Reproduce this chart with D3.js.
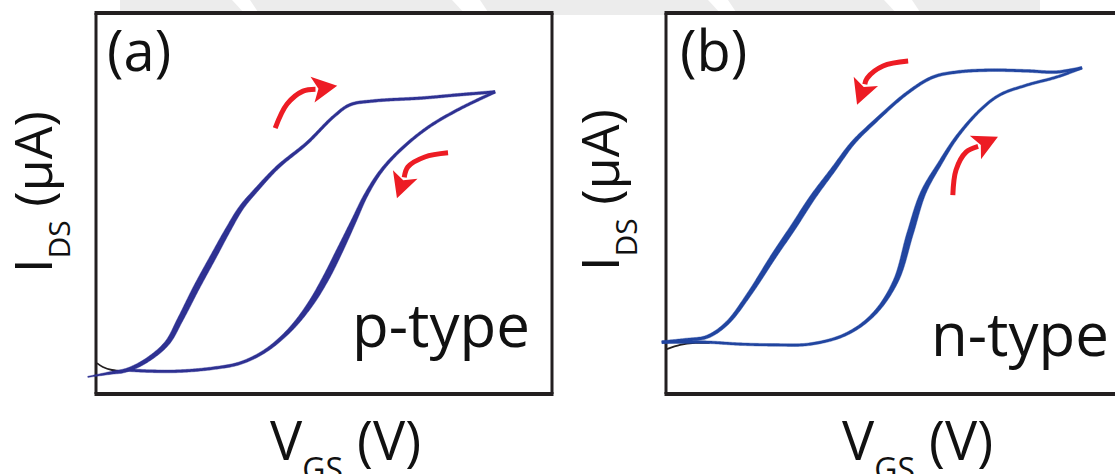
<!DOCTYPE html>
<html>
<head>
<meta charset="utf-8">
<script src="https://cdn.jsdelivr.net/npm/d3@7"></script>
<style>
  body { margin: 0; background: #fff; }
  svg { display: block; font-family: "Open Sans", sans-serif; }
</style>
</head>
<body>
<div id="chart"></div>
<script>
// Transfer curves (arbitrary units, 0-100 across each frame)

var panelLabels = ["(a)", "(b)"];
var typeLabels = ["p-type", "n-type"];
var xLabelParts = ["V", "GS", " (V)"];
var yLabelParts = ["I", "DS", " (\u00b5A)"];

// p-type, left branch (sweep up) and right branch (sweep back)
var pLeftV  = [-1.8, 3.1, 6.8, 11.2, 15.6, 18.4, 22.1, 25.7, 28.9, 31.8, 35.1, 39.9, 46.3, 52.0, 55.7, 60.7, 71.7, 79.2, 87.5];
var pLeftI  = [4.5, 5.5, 6.3, 8.9, 13.4, 19.4, 28.1, 36.0, 43.0, 48.8, 53.5, 59.6, 65.9, 72.7, 75.9, 76.9, 77.7, 78.5, 79.3];
var pRightV = [87.5, 79.2, 72.6, 66.7, 62.5, 59.2, 56.4, 53.5, 50.4, 46.9, 42.5, 37.1, 31.6, 25.9, 18.4, 11.8, 6.8];
var pRightI = [79.3, 74.5, 69.8, 64.0, 58.5, 52.2, 45.1, 37.8, 30.4, 23.4, 16.8, 11.3, 8.1, 6.8, 6.0, 6.0, 6.3];
var pOffV = [0.2, 1.5, 3.5, 5.9];
var pOffI = [8.1, 7.1, 6.3, 6.0];

// n-type, left branch (sweep back) and right branch (sweep up)
var nLeftV  = [-0.9, 4.2, 9.0, 13.4, 18.4, 23.5, 27.9, 32.2, 36.6, 41.0, 45.4, 52.9, 58.6, 63.8, 71.1, 79.2, 85.7, 91.2];
var nLeftI  = [13.6, 14.2, 15.0, 18.6, 26.5, 36.0, 43.8, 51.7, 58.8, 65.9, 71.1, 79.0, 83.2, 84.5, 85.0, 84.8, 84.5, 85.6];
var nRightV = [91.2, 85.7, 79.2, 73.2, 68.9, 63.8, 60.1, 56.4, 53.5, 50.4, 45.6, 39.5, 31.6, 23.5, 16.2, 9.0, 3.1, -0.9];
var nRightI = [85.6, 83.2, 81.1, 78.5, 74.5, 67.5, 60.6, 52.8, 42.0, 29.7, 21.0, 15.7, 13.1, 12.9, 13.1, 13.6, 13.6, 13.6];
var nOffV = [0.2, 3.1, 6.4, 9.6];
var nOffI = [11.8, 12.9, 13.4, 13.4];

// sweep direction arrows, last point is the tip
var pArrowUpV = [39.3, 41.9, 45.4, 52.9];
var pArrowUpI = [69.8, 76.1, 79.5, 80.9];
var pArrowDownV = [77.2, 72.1, 68.4, 66.0];
var pArrowDownI = [63.3, 62.2, 59.6, 51.4];
var nArrowDownV = [53.1, 47.6, 44.1, 41.9];
var nArrowDownI = [87.4, 86.1, 82.9, 75.9];
var nArrowUpV = [62.9, 63.6, 65.8, 72.8];
var nArrowUpI = [52.2, 58.8, 63.5, 67.5];

var ink = "#231f20";
var red = "#ed1c24";

var svg = d3.select("#chart")
  .append("svg")
  .attr("width", 1115)
  .attr("height", 474);

// faint watermark band along the top
var wm = svg.append("g");
wm.append("rect")
  .attr("x", 120).attr("y", 0).attr("width", 920).attr("height", 15)
  .attr("fill", "#ececec");
[[232, 250], [452, 480], [708, 728], [884, 912]].forEach(function(g) {
  wm.append("polygon")
    .attr("points", [[g[0], 0], [g[1], 0], [g[1] + 10, 15], [g[0] + 14, 15]].join(" "))
    .attr("fill", "#fff");
});

var panels = [
  { x0: 96, right: 552, label: panelLabels[0], type: typeLabels[0], color: "#2e3192",
    labelX: 107, typeX: 352, typeY: 347, xLabX: 270, yLabX: 52, yLabY: 273,
    branches: [
      { v: pLeftV, i: pLeftI, base: 2.8, extra: 3.6, c: 0.3, s: 0.2, taper: 0.06 },
      { v: pRightV, i: pRightI, base: 2.8, extra: 4.0, c: 0.5, s: 0.15, taper: 0 }
    ],
    off: [pOffV, pOffI],
    arrows: [[pArrowUpV, pArrowUpI], [pArrowDownV, pArrowDownI]] },
  { x0: 666, right: null, label: panelLabels[1], type: typeLabels[1], color: "#2145a0",
    labelX: 680, typeX: 931, typeY: 356, xLabX: 842, yLabX: 619, yLabY: 271,
    branches: [
      { v: nLeftV, i: nLeftI, base: 2.8, extra: 3.2, c: 0.35, s: 0.2, taper: 0 },
      { v: nRightV, i: nRightI, base: 2.6, extra: 4.0, c: 0.45, s: 0.14, taper: 0 }
    ],
    off: [nOffV, nOffI],
    arrows: [[nArrowDownV, nArrowDownI], [nArrowUpV, nArrowUpI]] }
];

var frameTop = 13, frameBottom = 394;

var yScale = d3.scaleLinear().domain([0, 100]).range([frameBottom, frameTop]);

// a branch is drawn as a filled ribbon so its width can swell on the steep part
function drawBranch(g, b, xScale, color) {
  var pts = b.v.map(function(v, k) { return [xScale(v), yScale(b.i[k])]; });
  var path = g.append("path")
    .attr("d", d3.line().curve(d3.curveCatmullRom.alpha(0.5))(pts))
    .attr("fill", "none")
    .attr("stroke", "none");
  var node = path.node();
  var L = node.getTotalLength();
  var n = Math.ceil(L / 1.5);
  var samples = d3.range(n + 1).map(function(k) { return node.getPointAtLength(L * k / n); });
  var left = [], right = [];
  samples.forEach(function(p, k) {
    var a = samples[Math.max(0, k - 1)], c = samples[Math.min(n, k + 1)];
    var tx = c.x - a.x, ty = c.y - a.y;
    var tl = Math.sqrt(tx * tx + ty * ty) || 1;
    var nx = -ty / tl, ny = tx / tl;
    var t = k / n;
    var w = b.base + b.extra * Math.exp(-Math.pow((t - b.c) / b.s, 2));
    if (b.taper) w *= Math.min(1, 0.35 + 0.65 * t / b.taper);
    left.push([p.x + nx * w / 2, p.y + ny * w / 2]);
    right.push([p.x - nx * w / 2, p.y - ny * w / 2]);
  });
  path.remove();
  g.append("path")
    .attr("d", "M" + left.concat(right.reverse()).map(function(q) {
      return q[0].toFixed(2) + "," + q[1].toFixed(2);
    }).join("L") + "Z")
    .attr("fill", color)
    .attr("stroke", color)
    .attr("stroke-width", 0.4)
    .attr("stroke-linejoin", "round");
}

function drawArrow(g, vs, is, xScale) {
  var pts = vs.map(function(v, k) { return [xScale(v), yScale(is[k])]; });
  var tip = pts[pts.length - 1], before = pts[pts.length - 2];
  var dx = tip[0] - before[0], dy = tip[1] - before[1];
  var len = Math.sqrt(dx * dx + dy * dy);
  var ux = dx / len, uy = dy / len;
  var headLen = 25, headHalf = 13;
  var base = [tip[0] - ux * headLen, tip[1] - uy * headLen];
  var shaft = pts.slice(0, -1).concat([[base[0] + ux * 3, base[1] + uy * 3]]);
  g.append("path")
    .attr("d", d3.line().curve(d3.curveCatmullRom.alpha(0.5))(shaft))
    .attr("fill", "none")
    .attr("stroke", red)
    .attr("stroke-width", 5);
  g.append("path")
    .attr("d", "M" + tip[0] + "," + tip[1] +
      "L" + (base[0] - uy * headHalf) + "," + (base[1] + ux * headHalf) +
      "L" + (base[0] + ux * 6) + "," + (base[1] + uy * 6) +
      "L" + (base[0] + uy * headHalf) + "," + (base[1] - ux * headHalf) + "Z")
    .attr("fill", red);
}

panels.forEach(function(pn) {
  var g = svg.append("g");
  var xScale = d3.scaleLinear().domain([0, 100]).range([pn.x0, pn.x0 + 456]);
  var xEnd = pn.right === null ? 1115 : pn.right;

  // frame
  g.append("line").attr("x1", pn.x0 - 1.5).attr("x2", xEnd + 1.5).attr("y1", frameTop).attr("y2", frameTop)
    .attr("stroke", ink).attr("stroke-width", 4);
  g.append("line").attr("x1", pn.x0 - 1.5).attr("x2", xEnd + 1.5).attr("y1", frameBottom).attr("y2", frameBottom)
    .attr("stroke", ink).attr("stroke-width", 4);
  g.append("line").attr("x1", pn.x0).attr("x2", pn.x0).attr("y1", frameTop).attr("y2", frameBottom)
    .attr("stroke", ink).attr("stroke-width", 3);
  if (pn.right !== null) {
    g.append("line").attr("x1", pn.right).attr("x2", pn.right).attr("y1", frameTop).attr("y2", frameBottom)
      .attr("stroke", ink).attr("stroke-width", 3);
  }

  // small black off-state trace
  var offPts = pn.off[0].map(function(v, k) { return [xScale(v), yScale(pn.off[1][k])]; });
  g.append("path")
    .attr("d", d3.line().curve(d3.curveCatmullRom)(offPts))
    .attr("fill", "none")
    .attr("stroke", ink)
    .attr("stroke-width", 1.8);

  pn.branches.forEach(function(b) { drawBranch(g, b, xScale, pn.color); });
  pn.arrows.forEach(function(a) { drawArrow(g, a[0], a[1], xScale); });

  // texts
  g.append("text")
    .attr("x", pn.labelX)
    .attr("y", 71)
    .attr("font-size", 56)
    .attr("fill", "#111")
    .text(pn.label);

  g.append("text")
    .attr("x", pn.typeX)
    .attr("y", pn.typeY)
    .attr("font-size", 60)
    .attr("fill", "#111")
    .text(pn.type);

  var xl = g.append("text")
    .attr("x", pn.xLabX)
    .attr("y", 460)
    .attr("font-size", 54)
    .attr("fill", "#111");
  xl.append("tspan").text(xLabelParts[0]);
  xl.append("tspan").attr("font-size", 32).attr("dy", 21).text(xLabelParts[1]);
  xl.append("tspan").attr("dy", -21).text(xLabelParts[2]);

  var yl = g.append("text")
    .attr("transform", "translate(" + pn.yLabX + "," + pn.yLabY + ") rotate(-90)")
    .attr("font-size", 52)
    .attr("fill", "#111");
  yl.append("tspan").text(yLabelParts[0]);
  yl.append("tspan").attr("font-size", 30).attr("dy", 18).text(yLabelParts[1]);
  yl.append("tspan").attr("dy", -18).text(yLabelParts[2]);
});
</script>
</body>
</html>
